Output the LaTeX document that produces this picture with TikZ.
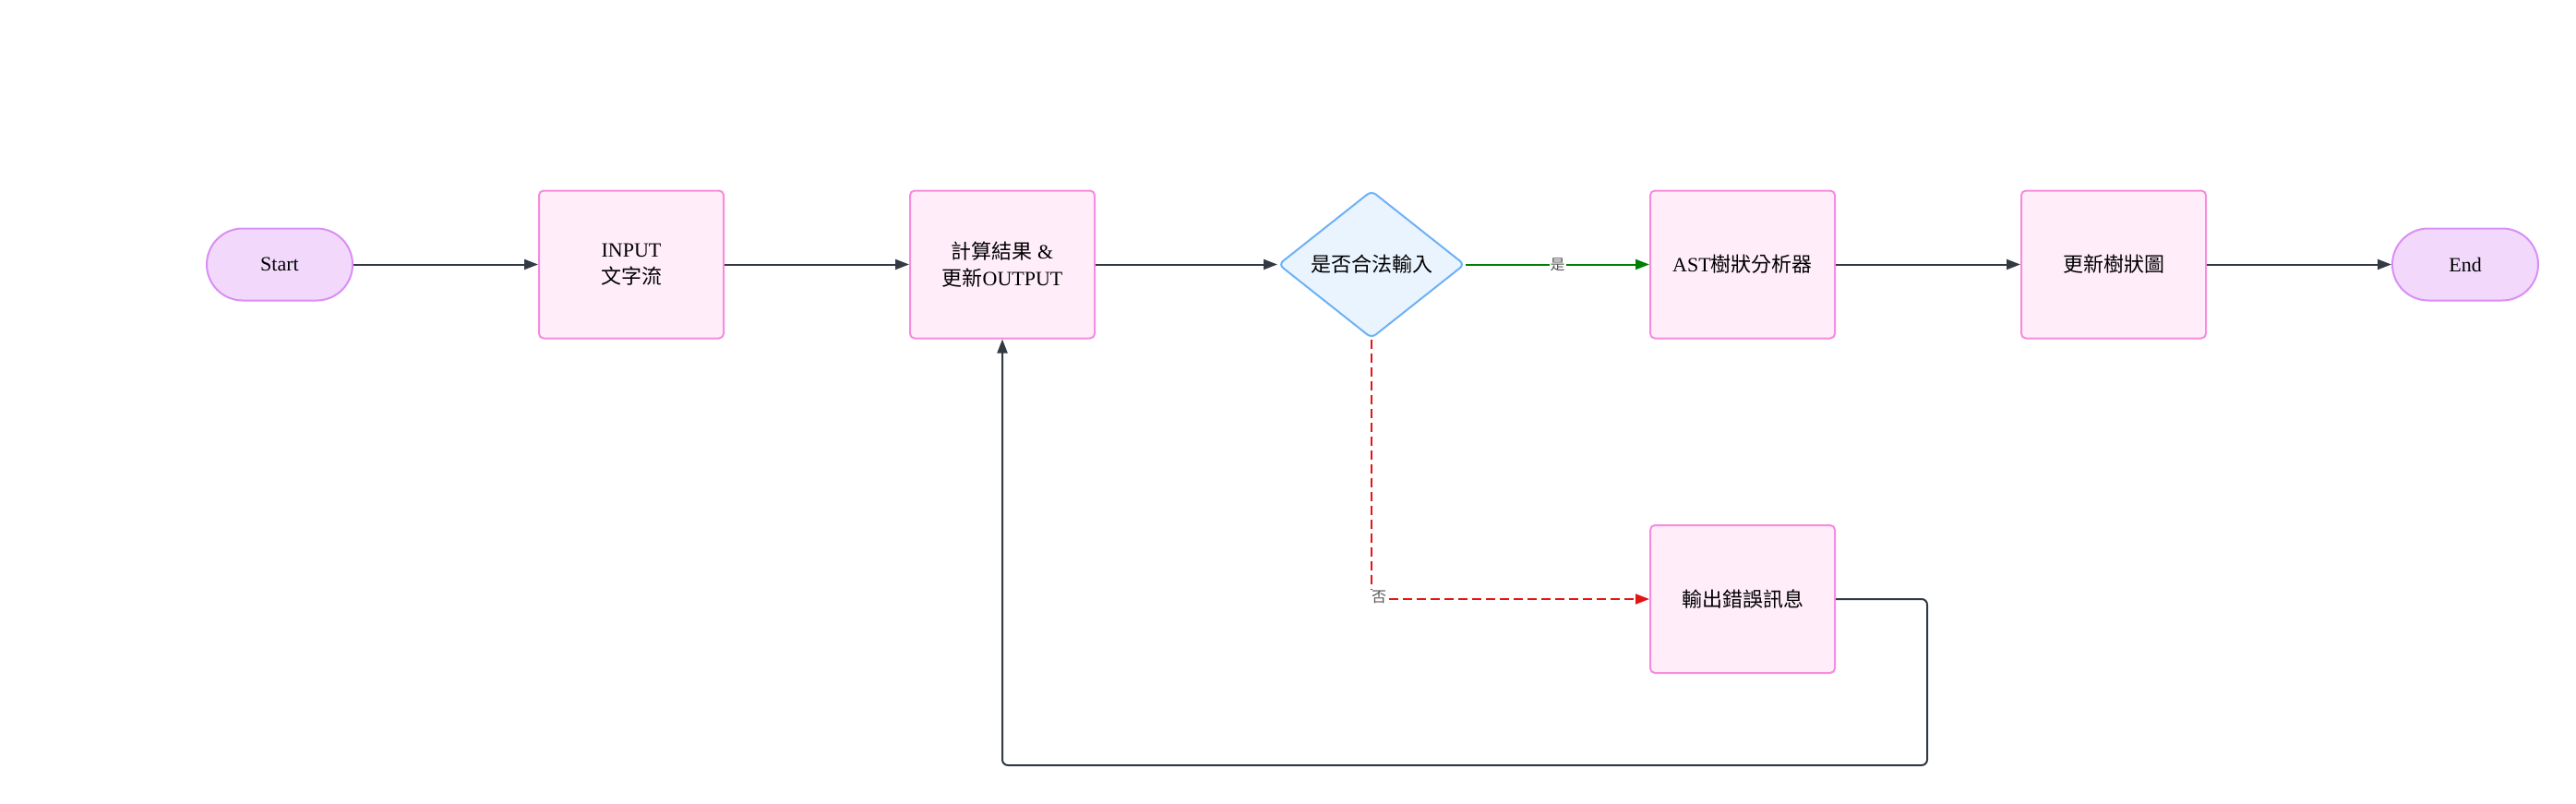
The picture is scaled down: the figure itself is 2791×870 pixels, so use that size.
\documentclass[tikz,border=0pt]{standalone}
\usepackage{fontspec}
\setmainfont{Liberation Serif}
\newfontfamily\cjk{Noto Sans CJK TC}
\usetikzlibrary{shapes.geometric,arrows.meta}
\definecolor{procfill}{HTML}{FFEEFA}
\definecolor{procline}{HTML}{F78BDD}
\definecolor{termfill}{HTML}{F2D9FC}
\definecolor{termline}{HTML}{DA8EF5}
\definecolor{decfill}{HTML}{EAF4FF}
\definecolor{decline}{HTML}{6DB1F5}
\definecolor{arrowc}{HTML}{333A44}
\definecolor{labelc}{HTML}{555555}
\definecolor{yesc}{HTML}{008000}
\definecolor{noc}{HTML}{E31414}
\begin{document}
\begin{tikzpicture}[x=1pt,y=-1pt,
  every node/.style={font=\fontsize{22}{29}\selectfont, text=black},
  proc/.style={draw=procline, fill=procfill, line width=2pt, rounded corners=5pt,
    minimum width=200pt, minimum height=160pt, align=center, inner sep=0pt},
  term/.style={draw=termline, fill=termfill, line width=2pt, rounded corners=39pt,
    minimum width=158pt, minimum height=78pt, inner sep=0pt},
  dec/.style={diamond, draw=decline, fill=decfill, line width=2pt, rounded corners=6pt,
    minimum width=202pt, minimum height=160pt, inner sep=0pt},
  flow/.style={draw=arrowc, line width=2pt, -{Triangle[length=15pt,width=11pt]}},
  lbl/.style={font=\fontsize{16}{18}\selectfont, text=labelc, fill=white, inner sep=1pt},
]
\useasboundingbox (0,0) rectangle (2791,870);
\node[term] (start) at (303,286.5) {Start};
\node[proc] (input) at (684,286.5) {INPUT\\{\cjk 文字流}};
\node[proc] (calc) at (1086,286.5) {{\cjk 計算結果} \&\\{\cjk 更新}OUTPUT};
\node[dec] (dia) at (1486,286.5) {\cjk 是否合法輸入};
\node[proc] (ast) at (1888,286.5) {AST{\cjk 樹狀分析器}};
\node[proc] (upd) at (2290,286.5) {\cjk 更新樹狀圖};
\node[term] (end) at (2671,286.5) {End};
\node[proc] (err) at (1888,649) {\cjk 輸出錯誤訊息};
\coordinate (c1) at (2088,649);
\coordinate (c2) at (2088,829);
\coordinate (c3) at (1086,829);

\draw[flow] (start) -- (input);
\draw[flow] (input) -- (calc);
\draw[flow] (calc) -- (dia);
\draw[flow, draw=yesc, -{Triangle[length=15pt,width=11pt,fill=yesc]}] (dia) -- node[lbl]{\cjk 是} (ast);
\draw[flow] (ast) -- (upd);
\draw[flow] (upd) -- (end);
\draw[flow, draw=noc, dash pattern=on 10pt off 5pt, -{Triangle[length=15pt,width=11pt,fill=noc]}]
  (dia.south) |- node[lbl, pos=0.5, xshift=8pt, yshift=2pt]{\cjk 否} (err.west);
\draw[flow, rounded corners=6pt] (err.east) -- (c1) -- (c2) -- (c3) -- (calc.south);
\end{tikzpicture}
\end{document}
